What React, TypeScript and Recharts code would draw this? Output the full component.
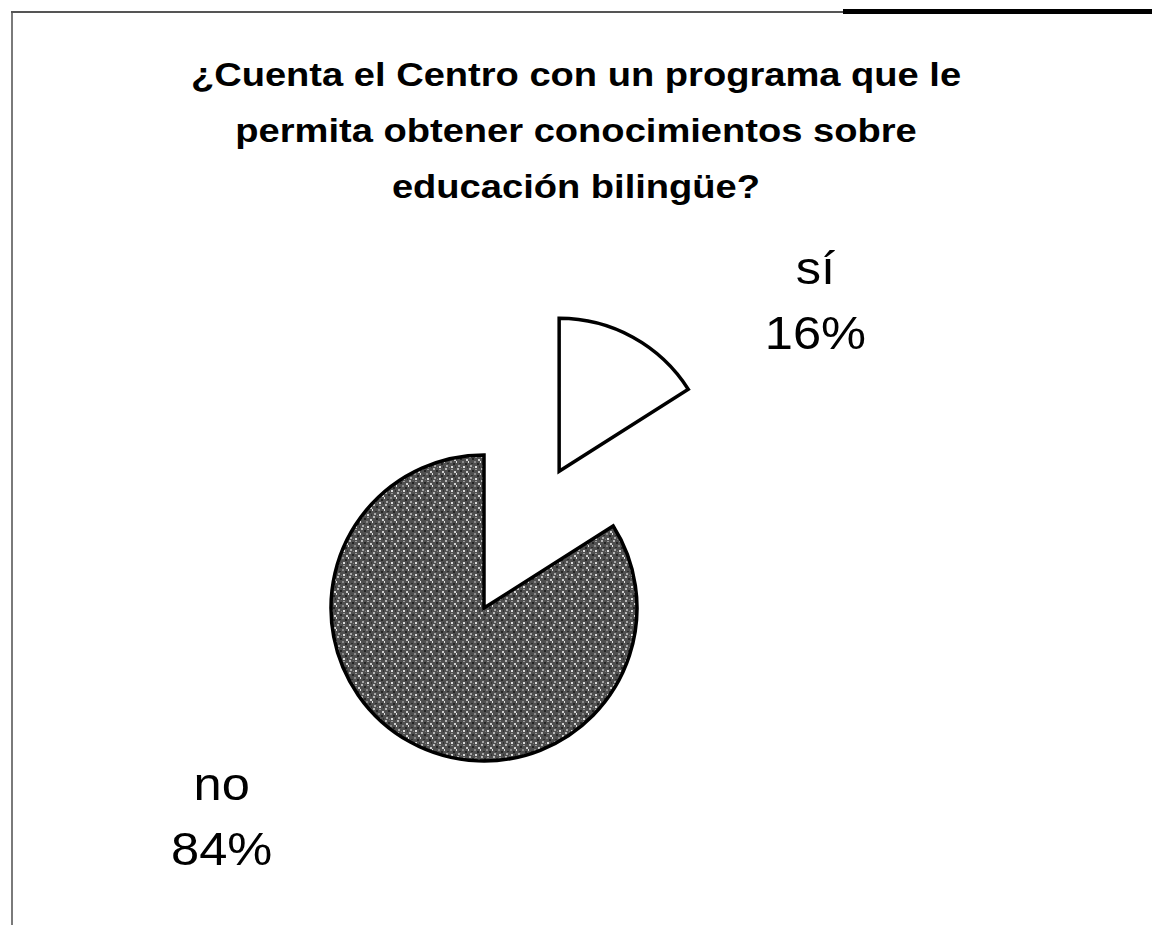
import { PieChart, Pie, Cell } from 'recharts'

const categories = ['sí', 'no']
const percentages = [16, 84]
const titleLines = [
  '¿Cuenta el Centro con un programa que le',
  'permita obtener conocimientos sobre',
  'educación bilingüe?',
]

const data = categories.map((name, i) => ({ name, value: percentages[i] }))

const W = 1152
const H = 925
const CX = 484
const CY = 608
const R = 153
const EXPLODE = 156
const RAD = Math.PI / 180

// the "sí" slice is pulled out along its own mid angle
const total = percentages.reduce((a, b) => a + b, 0)
const siMid = ((percentages[0] / total) * 360) / 2
const siCx = CX + EXPLODE * Math.sin(siMid * RAD)
const siCy = CY - EXPLODE * Math.cos(siMid * RAD)

const FONT = '"Liberation Sans", Arial, sans-serif'

function makeLabel(showIndex: number) {
  return (props: any) => {
    const { cx, cy, midAngle, outerRadius, index, name, value } = props
    if (index !== showIndex) return null
    const a = (midAngle - 25) * RAD
    const d = outerRadius * 2.1
    const x = cx + d * Math.cos(a) - 3
    const y = cy - d * Math.sin(a)
    return (
      <text
        transform={`translate(${x},${y}) scale(1.1,1)`}
        textAnchor="middle"
        fontFamily={FONT}
        fontSize={46}
        fill="#000"
      >
        <tspan x={0} y={2}>{name}</tspan>
        <tspan x={0} y={67}>{`${value}%`}</tspan>
      </text>
    )
  }
}

export default function App() {
  return (
    <div style={{ position: 'absolute', left: 0, top: 0, width: W, height: H, background: '#fff', overflow: 'hidden' }}>
      <svg width={0} height={0} style={{ position: 'absolute' }}>
        <defs>
          <pattern id="stipple" width={12} height={12} patternUnits="userSpaceOnUse">
            <rect width={12} height={12} fill="#4f4f4f" />
            <rect x={1} y={0} width={2} height={2} fill="#b8b8b8" />
            <rect x={7} y={1} width={2} height={1} fill="#9a9a9a" />
            <rect x={4} y={2} width={2} height={2} fill="#262626" />
            <rect x={10} y={3} width={2} height={2} fill="#d0d0d0" />
            <rect x={0} y={5} width={1} height={2} fill="#e2e2e2" />
            <rect x={6} y={5} width={2} height={2} fill="#8a8a8a" />
            <rect x={3} y={7} width={2} height={1} fill="#2e2e2e" />
            <rect x={9} y={7} width={2} height={2} fill="#262626" />
            <rect x={2} y={9} width={2} height={2} fill="#a8a8a8" />
            <rect x={7} y={10} width={2} height={2} fill="#dcdcdc" />
            <rect x={11} y={10} width={1} height={2} fill="#333" />
            <rect x={5} y={11} width={1} height={1} fill="#7a7a7a" />
          </pattern>
        </defs>
      </svg>

      {/* frame */}
      <div style={{ position: 'absolute', left: 11, top: 11, width: 1.5, height: H - 11, background: '#7a7a7a' }} />
      <div style={{ position: 'absolute', left: 11, top: 11, width: 832, height: 1.5, background: '#555' }} />
      <div style={{ position: 'absolute', left: 843, top: 9, width: W - 843, height: 5, background: '#000' }} />

      <div
        style={{
          position: 'absolute',
          left: 0,
          top: 46,
          width: W,
          textAlign: 'center',
          fontFamily: FONT,
          fontWeight: 'bold',
          fontSize: 34,
          lineHeight: '56px',
          color: '#000',
          transform: 'scaleX(1.12)',
          transformOrigin: '576px 0',
        }}
      >
        {titleLines.map((t) => (
          <div key={t}>{t}</div>
        ))}
      </div>

      <div style={{ position: 'absolute', left: 0, top: 0 }}>
        <PieChart width={W} height={H} margin={{ top: 0, right: 0, bottom: 0, left: 0 }}>
          <Pie
            data={data}
            dataKey="value"
            nameKey="name"
            cx={CX}
            cy={CY}
            outerRadius={R}
            startAngle={90}
            endAngle={-270}
            labelLine={false}
            label={makeLabel(1)}
            isAnimationActive={false}
          >
            <Cell fill="none" stroke="none" />
            <Cell fill="url(#stipple)" stroke="#000" strokeWidth={3.5} />
          </Pie>
          <Pie
            data={data}
            dataKey="value"
            nameKey="name"
            cx={siCx}
            cy={siCy}
            outerRadius={R}
            startAngle={90}
            endAngle={-270}
            labelLine={false}
            label={makeLabel(0)}
            isAnimationActive={false}
          >
            <Cell fill="#fff" stroke="#000" strokeWidth={3.5} />
            <Cell fill="none" stroke="none" />
          </Pie>
        </PieChart>
      </div>
    </div>
  )
}
